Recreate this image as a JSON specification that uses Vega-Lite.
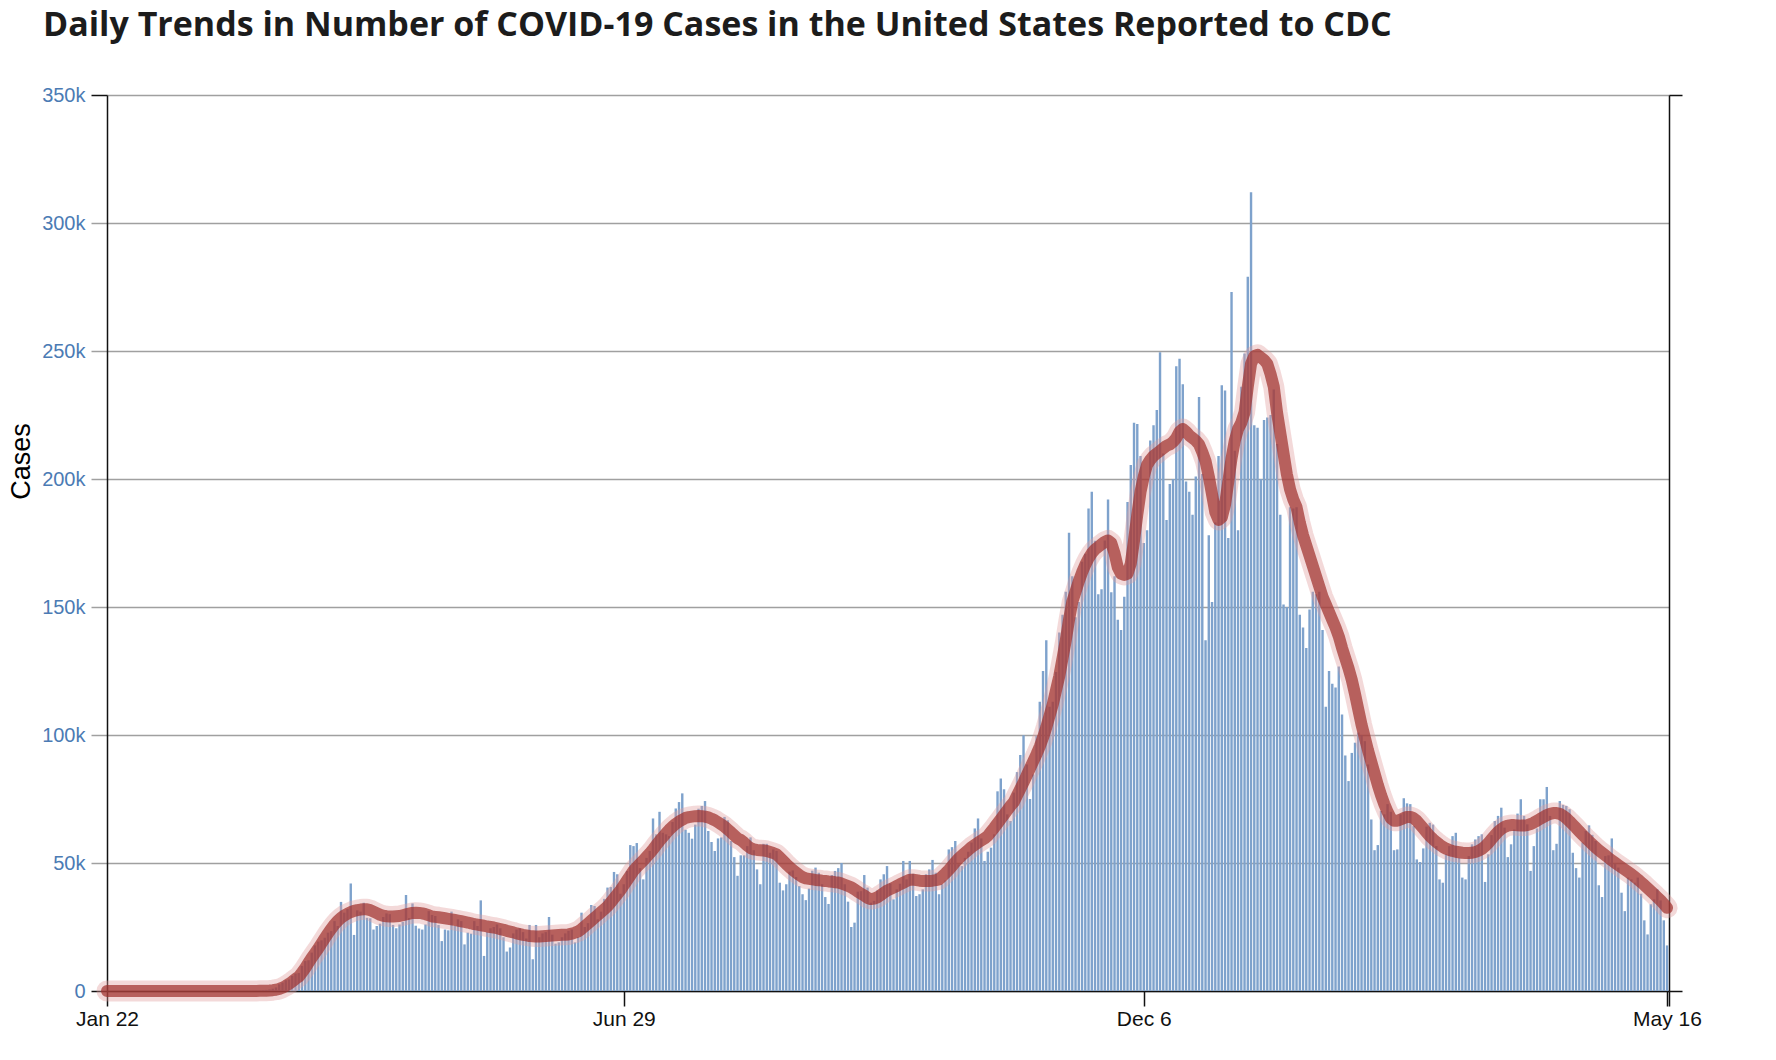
{
"$schema": "https://vega.github.io/schema/vega-lite/v6.json",
"width": 1562, "height": 896,
"autosize": {"type": "none"},
"padding": {"left": 107, "top": 95, "right": 107, "bottom": 69},
"background": "white",
"config": {"view": {"stroke": null}},
"title": {"text": "Daily Trends in Number of COVID-19 Cases in the United States Reported to CDC", "anchor": "start", "frame": "group", "font": "Open Sans", "fontWeight": "bold", "fontSize": 34, "color": "#1c1c1c", "dx": -64, "offset": 42},
"data": {"values": [
{"d":"2020-01-22","c":1,"a":0},{"d":"2020-01-23","c":0,"a":0},{"d":"2020-01-24","c":0,"a":0},{"d":"2020-01-25","c":1,"a":0},{"d":"2020-01-26","c":0,"a":0},{"d":"2020-01-27","c":0,"a":0},{"d":"2020-01-28","c":0,"a":0},{"d":"2020-01-29","c":0,"a":0},{"d":"2020-01-30","c":1,"a":0},{"d":"2020-01-31","c":0,"a":0},
{"d":"2020-02-01","c":1,"a":0},{"d":"2020-02-02","c":0,"a":0},{"d":"2020-02-03","c":0,"a":0},{"d":"2020-02-04","c":1,"a":0},{"d":"2020-02-05","c":0,"a":0},{"d":"2020-02-06","c":0,"a":0},{"d":"2020-02-07","c":1,"a":0},{"d":"2020-02-08","c":0,"a":0},{"d":"2020-02-09","c":0,"a":0},{"d":"2020-02-10","c":0,"a":0},{"d":"2020-02-11","c":1,"a":0},{"d":"2020-02-12","c":0,"a":0},{"d":"2020-02-13","c":0,"a":0},{"d":"2020-02-14","c":0,"a":0},{"d":"2020-02-15","c":1,"a":0},{"d":"2020-02-16","c":0,"a":0},{"d":"2020-02-17","c":0,"a":0},{"d":"2020-02-18","c":0,"a":0},{"d":"2020-02-19","c":0,"a":0},{"d":"2020-02-20","c":1,"a":0},{"d":"2020-02-21","c":0,"a":0},{"d":"2020-02-22","c":0,"a":0},{"d":"2020-02-23","c":5,"a":1},{"d":"2020-02-24","c":0,"a":1},{"d":"2020-02-25","c":0,"a":1},{"d":"2020-02-26","c":2,"a":1},{"d":"2020-02-27","c":0,"a":1},{"d":"2020-02-28","c":3,"a":1},{"d":"2020-02-29","c":5,"a":1},
{"d":"2020-03-01","c":8,"a":1},{"d":"2020-03-02","c":12,"a":2},{"d":"2020-03-03","c":20,"a":4},{"d":"2020-03-04","c":25,"a":6},{"d":"2020-03-05","c":40,"a":9},{"d":"2020-03-06","c":60,"a":14},{"d":"2020-03-07","c":90,"a":20},{"d":"2020-03-08","c":130,"a":30},{"d":"2020-03-09","c":200,"a":50},{"d":"2020-03-10","c":300,"a":80},{"d":"2020-03-11","c":420,"a":130},{"d":"2020-03-12","c":600,"a":200},{"d":"2020-03-13","c":900,"a":320},{"d":"2020-03-14","c":1400,"a":500},{"d":"2020-03-15","c":2600,"a":800},{"d":"2020-03-16","c":3300,"a":1300},{"d":"2020-03-17","c":4200,"a":2000},{"d":"2020-03-18","c":4500,"a":2800},{"d":"2020-03-19","c":5900,"a":3700},{"d":"2020-03-20","c":6800,"a":4700},{"d":"2020-03-21","c":7000,"a":5600},{"d":"2020-03-22","c":9800,"a":7200},{"d":"2020-03-23","c":11700,"a":9000},{"d":"2020-03-24","c":12000,"a":11000},{"d":"2020-03-25","c":15000,"a":13000},{"d":"2020-03-26","c":17800,"a":14800},{"d":"2020-03-27","c":19300,"a":16600},{"d":"2020-03-28","c":19800,"a":18600},{"d":"2020-03-29","c":20800,"a":20600},{"d":"2020-03-30","c":22800,"a":22500},{"d":"2020-03-31","c":23400,"a":24300},
{"d":"2020-04-01","c":27300,"a":26000},{"d":"2020-04-02","c":25400,"a":27400},{"d":"2020-04-03","c":34800,"a":28600},{"d":"2020-04-04","c":30600,"a":29500},{"d":"2020-04-05","c":32000,"a":30200},{"d":"2020-04-06","c":42000,"a":30800},{"d":"2020-04-07","c":21900,"a":31300},{"d":"2020-04-08","c":31500,"a":31600},{"d":"2020-04-09","c":31000,"a":31800},{"d":"2020-04-10","c":34500,"a":31900},{"d":"2020-04-11","c":28600,"a":31900},{"d":"2020-04-12","c":28400,"a":31600},{"d":"2020-04-13","c":24000,"a":31000},{"d":"2020-04-14","c":25400,"a":30400},{"d":"2020-04-15","c":26300,"a":29800},{"d":"2020-04-16","c":28900,"a":29400},{"d":"2020-04-17","c":30300,"a":29200},{"d":"2020-04-18","c":30000,"a":29100},{"d":"2020-04-19","c":25800,"a":29100},{"d":"2020-04-20","c":24500,"a":29200},{"d":"2020-04-21","c":26000,"a":29300},{"d":"2020-04-22","c":27000,"a":29600},{"d":"2020-04-23","c":37500,"a":29900},{"d":"2020-04-24","c":28500,"a":30200},{"d":"2020-04-25","c":34200,"a":30500},{"d":"2020-04-26","c":25500,"a":30600},{"d":"2020-04-27","c":24400,"a":30500},{"d":"2020-04-28","c":24000,"a":30300},{"d":"2020-04-29","c":26000,"a":30000},{"d":"2020-04-30","c":31200,"a":29600},
{"d":"2020-05-01","c":29700,"a":29100},{"d":"2020-05-02","c":29300,"a":28950},{"d":"2020-05-03","c":25800,"a":28800},{"d":"2020-05-04","c":19500,"a":28600},{"d":"2020-05-05","c":24000,"a":28400},{"d":"2020-05-06","c":23700,"a":28200},{"d":"2020-05-07","c":31000,"a":28000},{"d":"2020-05-08","c":25400,"a":27750},{"d":"2020-05-09","c":28000,"a":27500},{"d":"2020-05-10","c":27300,"a":27250},{"d":"2020-05-11","c":18200,"a":27000},{"d":"2020-05-12","c":22800,"a":26750},{"d":"2020-05-13","c":22400,"a":26450},{"d":"2020-05-14","c":27300,"a":26100},{"d":"2020-05-15","c":25400,"a":25900},{"d":"2020-05-16","c":35400,"a":25700},{"d":"2020-05-17","c":13700,"a":25500},{"d":"2020-05-18","c":23000,"a":25200},{"d":"2020-05-19","c":24500,"a":25000},{"d":"2020-05-20","c":25000,"a":24800},{"d":"2020-05-21","c":26000,"a":24500},{"d":"2020-05-22","c":24500,"a":24200},{"d":"2020-05-23","c":21000,"a":23900},{"d":"2020-05-24","c":15400,"a":23500},{"d":"2020-05-25","c":17000,"a":23200},{"d":"2020-05-26","c":22500,"a":22900},{"d":"2020-05-27","c":24000,"a":22500},{"d":"2020-05-28","c":24500,"a":22200},{"d":"2020-05-29","c":23000,"a":21900},{"d":"2020-05-30","c":20500,"a":21700},{"d":"2020-05-31","c":25800,"a":21500},
{"d":"2020-06-01","c":12400,"a":21400},{"d":"2020-06-02","c":25800,"a":21300},{"d":"2020-06-03","c":21000,"a":21300},{"d":"2020-06-04","c":22500,"a":21400},{"d":"2020-06-05","c":23000,"a":21500},{"d":"2020-06-06","c":28900,"a":21600},{"d":"2020-06-07","c":22000,"a":21700},{"d":"2020-06-08","c":18500,"a":21800},{"d":"2020-06-09","c":19000,"a":21900},{"d":"2020-06-10","c":21000,"a":22000},{"d":"2020-06-11","c":22500,"a":22000},{"d":"2020-06-12","c":23500,"a":22100},{"d":"2020-06-13","c":24000,"a":22400},{"d":"2020-06-14","c":19000,"a":22800},{"d":"2020-06-15","c":21000,"a":23300},{"d":"2020-06-16","c":30600,"a":24200},{"d":"2020-06-17","c":25000,"a":25300},{"d":"2020-06-18","c":26500,"a":26400},{"d":"2020-06-19","c":33600,"a":27500},{"d":"2020-06-20","c":33200,"a":28600},{"d":"2020-06-21","c":28000,"a":29700},{"d":"2020-06-22","c":31000,"a":30800},{"d":"2020-06-23","c":36000,"a":31900},{"d":"2020-06-24","c":40400,"a":33100},{"d":"2020-06-25","c":40600,"a":34600},{"d":"2020-06-26","c":46500,"a":36200},{"d":"2020-06-27","c":45600,"a":37800},{"d":"2020-06-28","c":38000,"a":39400},{"d":"2020-06-29","c":41700,"a":41300},{"d":"2020-06-30","c":46900,"a":43200},
{"d":"2020-07-01","c":57000,"a":45100},{"d":"2020-07-02","c":56600,"a":47000},{"d":"2020-07-03","c":57800,"a":48400},{"d":"2020-07-04","c":48000,"a":49700},{"d":"2020-07-05","c":43600,"a":51000},{"d":"2020-07-06","c":52000,"a":52400},{"d":"2020-07-07","c":54700,"a":53800},{"d":"2020-07-08","c":67400,"a":55300},{"d":"2020-07-09","c":61200,"a":57000},{"d":"2020-07-10","c":70000,"a":58600},{"d":"2020-07-11","c":61800,"a":60100},{"d":"2020-07-12","c":61200,"a":61600},{"d":"2020-07-13","c":60500,"a":63000},{"d":"2020-07-14","c":66000,"a":64200},{"d":"2020-07-15","c":71300,"a":65300},{"d":"2020-07-16","c":73800,"a":66200},{"d":"2020-07-17","c":77200,"a":66900},{"d":"2020-07-18","c":63000,"a":67600},{"d":"2020-07-19","c":61800,"a":67900},{"d":"2020-07-20","c":59500,"a":68100},{"d":"2020-07-21","c":65000,"a":68300},{"d":"2020-07-22","c":71200,"a":68400},{"d":"2020-07-23","c":72300,"a":68300},{"d":"2020-07-24","c":74200,"a":68100},{"d":"2020-07-25","c":62500,"a":67800},{"d":"2020-07-26","c":58200,"a":67300},{"d":"2020-07-27","c":54700,"a":66700},{"d":"2020-07-28","c":59600,"a":65900},{"d":"2020-07-29","c":60000,"a":65100},{"d":"2020-07-30","c":68000,"a":64200},{"d":"2020-07-31","c":66700,"a":63100},
{"d":"2020-08-01","c":58600,"a":62000},{"d":"2020-08-02","c":52300,"a":60800},{"d":"2020-08-03","c":45000,"a":59600},{"d":"2020-08-04","c":53000,"a":59000},{"d":"2020-08-05","c":53000,"a":58000},{"d":"2020-08-06","c":56600,"a":56800},{"d":"2020-08-07","c":60000,"a":55800},{"d":"2020-08-08","c":55000,"a":55300},{"d":"2020-08-09","c":47500,"a":55100},{"d":"2020-08-10","c":41700,"a":55000},{"d":"2020-08-11","c":57500,"a":54900},{"d":"2020-08-12","c":57500,"a":54700},{"d":"2020-08-13","c":54000,"a":54300},{"d":"2020-08-14","c":55300,"a":53900},{"d":"2020-08-15","c":54700,"a":53400},{"d":"2020-08-16","c":42300,"a":52200},{"d":"2020-08-17","c":39300,"a":50900},{"d":"2020-08-18","c":41700,"a":49600},{"d":"2020-08-19","c":46600,"a":48400},{"d":"2020-08-20","c":47100,"a":47300},{"d":"2020-08-21","c":44500,"a":46300},{"d":"2020-08-22","c":41000,"a":45300},{"d":"2020-08-23","c":37800,"a":44500},{"d":"2020-08-24","c":35500,"a":44000},{"d":"2020-08-25","c":40000,"a":43800},{"d":"2020-08-26","c":47000,"a":43600},{"d":"2020-08-27","c":48200,"a":43400},{"d":"2020-08-28","c":46200,"a":43300},{"d":"2020-08-29","c":41700,"a":43100},{"d":"2020-08-30","c":36700,"a":43000},{"d":"2020-08-31","c":34000,"a":42800},
{"d":"2020-09-01","c":45300,"a":42700},{"d":"2020-09-02","c":46900,"a":42500},{"d":"2020-09-03","c":48000,"a":42400},{"d":"2020-09-04","c":50000,"a":42000},{"d":"2020-09-05","c":41700,"a":41500},{"d":"2020-09-06","c":34900,"a":41000},{"d":"2020-09-07","c":25000,"a":40500},{"d":"2020-09-08","c":26700,"a":39700},{"d":"2020-09-09","c":38800,"a":38800},{"d":"2020-09-10","c":39000,"a":38000},{"d":"2020-09-11","c":45300,"a":37300},{"d":"2020-09-12","c":40400,"a":36400},{"d":"2020-09-13","c":34500,"a":35900},{"d":"2020-09-14","c":35200,"a":36100},{"d":"2020-09-15","c":39300,"a":36600},{"d":"2020-09-16","c":43600,"a":37400},{"d":"2020-09-17","c":45600,"a":38300},{"d":"2020-09-18","c":48800,"a":39200},{"d":"2020-09-19","c":42000,"a":39800},{"d":"2020-09-20","c":35800,"a":40400},{"d":"2020-09-21","c":39700,"a":41000},{"d":"2020-09-22","c":41900,"a":41700},{"d":"2020-09-23","c":50800,"a":42300},{"d":"2020-09-24","c":43600,"a":42900},{"d":"2020-09-25","c":50800,"a":43500},{"d":"2020-09-26","c":45800,"a":43500},{"d":"2020-09-27","c":37100,"a":43300},{"d":"2020-09-28","c":37800,"a":43100},{"d":"2020-09-29","c":39700,"a":43000},{"d":"2020-09-30","c":45600,"a":43000},
{"d":"2020-10-01","c":47500,"a":43000},{"d":"2020-10-02","c":51200,"a":43100},{"d":"2020-10-03","c":46200,"a":43300},{"d":"2020-10-04","c":37800,"a":43600},{"d":"2020-10-05","c":41700,"a":44800},{"d":"2020-10-06","c":43200,"a":46000},{"d":"2020-10-07","c":55300,"a":47300},{"d":"2020-10-08","c":56200,"a":48800},{"d":"2020-10-09","c":58600,"a":50300},{"d":"2020-10-10","c":49500,"a":51700},{"d":"2020-10-11","c":48800,"a":52900},{"d":"2020-10-12","c":52000,"a":54000},{"d":"2020-10-13","c":54400,"a":55100},{"d":"2020-10-14","c":58000,"a":56200},{"d":"2020-10-15","c":63500,"a":57100},{"d":"2020-10-16","c":67400,"a":58000},{"d":"2020-10-17","c":59600,"a":58800},{"d":"2020-10-18","c":50800,"a":59600},{"d":"2020-10-19","c":54400,"a":60600},{"d":"2020-10-20","c":56000,"a":62200},{"d":"2020-10-21","c":61200,"a":63800},{"d":"2020-10-22","c":78000,"a":65500},{"d":"2020-10-23","c":83000,"a":67200},{"d":"2020-10-24","c":78800,"a":68900},{"d":"2020-10-25","c":69000,"a":70600},{"d":"2020-10-26","c":66400,"a":72300},{"d":"2020-10-27","c":77500,"a":73800},{"d":"2020-10-28","c":85500,"a":76400},{"d":"2020-10-29","c":92200,"a":79000},{"d":"2020-10-30","c":99900,"a":81500},{"d":"2020-10-31","c":88500,"a":84300},
{"d":"2020-11-01","c":75000,"a":87000},{"d":"2020-11-02","c":84600,"a":89800},{"d":"2020-11-03","c":99600,"a":92500},{"d":"2020-11-04","c":113000,"a":95500},{"d":"2020-11-05","c":125000,"a":99000},{"d":"2020-11-06","c":137000,"a":103000},{"d":"2020-11-07","c":111000,"a":107500},{"d":"2020-11-08","c":113000,"a":112000},{"d":"2020-11-09","c":124600,"a":117500},{"d":"2020-11-10","c":140000,"a":123000},{"d":"2020-11-11","c":147000,"a":130000},{"d":"2020-11-12","c":156000,"a":137000},{"d":"2020-11-13","c":179000,"a":145000},{"d":"2020-11-14","c":162000,"a":152000},{"d":"2020-11-15","c":146000,"a":156000},{"d":"2020-11-16","c":152000,"a":160000},{"d":"2020-11-17","c":167700,"a":163500},{"d":"2020-11-18","c":170800,"a":166500},{"d":"2020-11-19","c":188500,"a":169000},{"d":"2020-11-20","c":195000,"a":171000},{"d":"2020-11-21","c":175900,"a":172500},{"d":"2020-11-22","c":155000,"a":173500},{"d":"2020-11-23","c":156900,"a":174500},{"d":"2020-11-24","c":176000,"a":175500},{"d":"2020-11-25","c":192000,"a":176000},{"d":"2020-11-26","c":155800,"a":175000},{"d":"2020-11-27","c":162000,"a":171000},{"d":"2020-11-28","c":145000,"a":165500},{"d":"2020-11-29","c":141000,"a":163000},{"d":"2020-11-30","c":154000,"a":162500},
{"d":"2020-12-01","c":191000,"a":163000},{"d":"2020-12-02","c":205500,"a":167000},{"d":"2020-12-03","c":222000,"a":176000},{"d":"2020-12-04","c":221500,"a":186000},{"d":"2020-12-05","c":209000,"a":195000},{"d":"2020-12-06","c":175000,"a":201000},{"d":"2020-12-07","c":180000,"a":205500},{"d":"2020-12-08","c":215000,"a":207500},{"d":"2020-12-09","c":221000,"a":209000},{"d":"2020-12-10","c":227000,"a":210000},{"d":"2020-12-11","c":249500,"a":211000},{"d":"2020-12-12","c":210000,"a":212000},{"d":"2020-12-13","c":184000,"a":213000},{"d":"2020-12-14","c":198000,"a":213500},{"d":"2020-12-15","c":200000,"a":214500},{"d":"2020-12-16","c":244000,"a":216000},{"d":"2020-12-17","c":247000,"a":218500},{"d":"2020-12-18","c":237000,"a":219500},{"d":"2020-12-19","c":199000,"a":218500},{"d":"2020-12-20","c":195000,"a":217000},{"d":"2020-12-21","c":186000,"a":216000},{"d":"2020-12-22","c":201000,"a":215000},{"d":"2020-12-23","c":232000,"a":213500},{"d":"2020-12-24","c":202000,"a":210500},{"d":"2020-12-25","c":137000,"a":207000},{"d":"2020-12-26","c":178000,"a":201000},{"d":"2020-12-27","c":152000,"a":194000},{"d":"2020-12-28","c":183000,"a":187000},{"d":"2020-12-29","c":209000,"a":184000},{"d":"2020-12-30","c":236600,"a":185000},{"d":"2020-12-31","c":234600,"a":190000},
{"d":"2021-01-01","c":177000,"a":199000},{"d":"2021-01-02","c":273000,"a":208000},{"d":"2021-01-03","c":211000,"a":215000},{"d":"2021-01-04","c":180000,"a":219500},{"d":"2021-01-05","c":236000,"a":222000},{"d":"2021-01-06","c":249000,"a":226000},{"d":"2021-01-07","c":279000,"a":236000},{"d":"2021-01-08","c":312000,"a":245000},{"d":"2021-01-09","c":221000,"a":248000},{"d":"2021-01-10","c":220000,"a":248500},{"d":"2021-01-11","c":200000,"a":247500},{"d":"2021-01-12","c":223000,"a":246500},{"d":"2021-01-13","c":224000,"a":245000},{"d":"2021-01-14","c":225000,"a":241000},{"d":"2021-01-15","c":235000,"a":236000},{"d":"2021-01-16","c":213700,"a":226000},{"d":"2021-01-17","c":186000,"a":218000},{"d":"2021-01-18","c":151000,"a":210000},{"d":"2021-01-19","c":150000,"a":202000},{"d":"2021-01-20","c":189000,"a":196000},{"d":"2021-01-21","c":188500,"a":192000},{"d":"2021-01-22","c":189000,"a":189000},{"d":"2021-01-23","c":147000,"a":183000},{"d":"2021-01-24","c":142000,"a":178000},{"d":"2021-01-25","c":134000,"a":174000},{"d":"2021-01-26","c":149000,"a":170000},{"d":"2021-01-27","c":156000,"a":166000},{"d":"2021-01-28","c":155000,"a":162000},{"d":"2021-01-29","c":156000,"a":158000},{"d":"2021-01-30","c":141000,"a":154000},{"d":"2021-01-31","c":111000,"a":151000},
{"d":"2021-02-01","c":125000,"a":148000},{"d":"2021-02-02","c":120000,"a":145000},{"d":"2021-02-03","c":118600,"a":142000},{"d":"2021-02-04","c":126800,"a":138500},{"d":"2021-02-05","c":108000,"a":134000},{"d":"2021-02-06","c":92000,"a":130000},{"d":"2021-02-07","c":82000,"a":126000},{"d":"2021-02-08","c":93000,"a":121500},{"d":"2021-02-09","c":97000,"a":116000},{"d":"2021-02-10","c":101000,"a":110000},{"d":"2021-02-11","c":100000,"a":104000},{"d":"2021-02-12","c":97600,"a":99000},{"d":"2021-02-13","c":88500,"a":94000},{"d":"2021-02-14","c":67000,"a":89500},{"d":"2021-02-15","c":55000,"a":85000},{"d":"2021-02-16","c":57000,"a":80500},{"d":"2021-02-17","c":70300,"a":76500},{"d":"2021-02-18","c":69000,"a":73000},{"d":"2021-02-19","c":73000,"a":70000},{"d":"2021-02-20","c":70000,"a":67500},{"d":"2021-02-21","c":55000,"a":66500},{"d":"2021-02-22","c":55300,"a":66500},{"d":"2021-02-23","c":69000,"a":67000},{"d":"2021-02-24","c":75300,"a":67500},{"d":"2021-02-25","c":73300,"a":68000},{"d":"2021-02-26","c":73000,"a":68000},{"d":"2021-02-27","c":64400,"a":67500},{"d":"2021-02-28","c":51400,"a":66500},
{"d":"2021-03-01","c":50400,"a":65000},{"d":"2021-03-02","c":55700,"a":63500},{"d":"2021-03-03","c":64200,"a":62000},{"d":"2021-03-04","c":65700,"a":60500},{"d":"2021-03-05","c":65000,"a":59300},{"d":"2021-03-06","c":56600,"a":58200},{"d":"2021-03-07","c":43600,"a":57200},{"d":"2021-03-08","c":42300,"a":56300},{"d":"2021-03-09","c":53400,"a":55600},{"d":"2021-03-10","c":56600,"a":55100},{"d":"2021-03-11","c":60500,"a":54700},{"d":"2021-03-12","c":61800,"a":54400},{"d":"2021-03-13","c":52000,"a":54200},{"d":"2021-03-14","c":44300,"a":54000},{"d":"2021-03-15","c":43600,"a":53900},{"d":"2021-03-16","c":52700,"a":53900},{"d":"2021-03-17","c":57300,"a":54000},{"d":"2021-03-18","c":59200,"a":54300},{"d":"2021-03-19","c":60500,"a":54800},{"d":"2021-03-20","c":61200,"a":55500},{"d":"2021-03-21","c":42600,"a":56500},{"d":"2021-03-22","c":53400,"a":57800},{"d":"2021-03-23","c":60900,"a":59300},{"d":"2021-03-24","c":66400,"a":60800},{"d":"2021-03-25","c":68400,"a":62200},{"d":"2021-03-26","c":71600,"a":63300},{"d":"2021-03-27","c":63800,"a":64100},{"d":"2021-03-28","c":52300,"a":64600},{"d":"2021-03-29","c":57300,"a":64800},{"d":"2021-03-30","c":63100,"a":64800},{"d":"2021-03-31","c":69300,"a":64700},
{"d":"2021-04-01","c":74900,"a":64600},{"d":"2021-04-02","c":68400,"a":64600},{"d":"2021-04-03","c":65100,"a":64800},{"d":"2021-04-04","c":46900,"a":65200},{"d":"2021-04-05","c":56600,"a":65800},{"d":"2021-04-06","c":63500,"a":66500},{"d":"2021-04-07","c":74900,"a":67300},{"d":"2021-04-08","c":74900,"a":68000},{"d":"2021-04-09","c":79700,"a":68700},{"d":"2021-04-10","c":68400,"a":69200},{"d":"2021-04-11","c":55000,"a":69500},{"d":"2021-04-12","c":57500,"a":69500},{"d":"2021-04-13","c":74200,"a":69200},{"d":"2021-04-14","c":72700,"a":68500},{"d":"2021-04-15","c":72300,"a":67500},{"d":"2021-04-16","c":71000,"a":66300},{"d":"2021-04-17","c":54000,"a":65000},{"d":"2021-04-18","c":48000,"a":63700},{"d":"2021-04-19","c":44300,"a":62300},{"d":"2021-04-20","c":58000,"a":61000},{"d":"2021-04-21","c":62500,"a":59700},{"d":"2021-04-22","c":64700,"a":58500},{"d":"2021-04-23","c":61000,"a":57300},{"d":"2021-04-24","c":58600,"a":56100},{"d":"2021-04-25","c":41300,"a":55000},{"d":"2021-04-26","c":36700,"a":54000},{"d":"2021-04-27","c":52700,"a":53000},{"d":"2021-04-28","c":53000,"a":52000},{"d":"2021-04-29","c":59600,"a":51000},{"d":"2021-04-30","c":49700,"a":50100},
{"d":"2021-05-01","c":48200,"a":49200},{"d":"2021-05-02","c":38400,"a":48300},{"d":"2021-05-03","c":31200,"a":47400},{"d":"2021-05-04","c":44300,"a":46500},{"d":"2021-05-05","c":43600,"a":45600},{"d":"2021-05-06","c":42300,"a":44600},{"d":"2021-05-07","c":44300,"a":43600},{"d":"2021-05-08","c":38000,"a":42500},{"d":"2021-05-09","c":27600,"a":41400},{"d":"2021-05-10","c":22100,"a":40200},{"d":"2021-05-11","c":33900,"a":39000},{"d":"2021-05-12","c":35800,"a":37800},{"d":"2021-05-13","c":39700,"a":36600},{"d":"2021-05-14","c":35400,"a":35400},{"d":"2021-05-15","c":27600,"a":34000},{"d":"2021-05-16","c":17800,"a":32500}
]},
"encoding": {
  "x": {"field": "d", "type": "temporal", "scale": {"type": "utc", "domain": [1579651200000, 1621175040000], "padding": 0},
        "axis": {"values": [1579651200000, 1593388800000, 1607212800000, 1621123200000, 1621175040000],
                 "labelExpr": "datum.value > 1621150000000 ? '' : utcFormat(datum.value, '%b %-d')",
                 "labelFont": "Liberation Sans", "labelFontSize": 21, "labelColor": "#111111", "labelPadding": 2,
                 "labelFlush": false, "labelOverlap": false,
                 "tickSize": 15, "tickColor": "#111111", "tickWidth": 1.5,
                 "domainColor": "#111111", "domainWidth": 1.5, "grid": false, "title": null}}
},
"layer": [
  {"mark": {"type": "bar", "width": 2.4, "color": "#7ea2cc"},
   "encoding": {"y": {"field": "c", "type": "quantitative", "scale": {"domain": [0, 350000]},
     "axis": {"orient": "left", "values": [0, 50000, 100000, 150000, 200000, 250000, 300000, 350000],
              "labelExpr": "datum.value == 0 ? '0' : format(datum.value / 1000, 'd') + 'k'",
              "labelColor": "#4b7bb4", "labelFont": "Liberation Sans", "labelFontSize": 20, "labelPadding": 6,
              "tickSize": 16, "tickWidth": 1.5,
              "tickColor": {"condition": {"test": "datum.value == 0 || datum.value == 350000", "value": "#111111"}, "value": "#a0a0a0"},
              "domainColor": "#111111", "domainWidth": 1.5,
              "grid": true, "gridColor": "#a0a0a0", "gridWidth": 1.5,
              "title": "Cases", "titleFont": "Liberation Sans", "titleFontSize": 27, "titleFontWeight": "normal", "titleColor": "#000000",
              "titleX": -72, "titleY": 366}}}},
  {"mark": {"type": "line", "strokeWidth": 21, "color": "#e09c9a", "opacity": 0.38, "strokeCap": "round", "strokeJoin": "round"},
   "encoding": {"y": {"field": "a", "type": "quantitative", "scale": {"domain": [0, 350000]},
     "axis": {"orient": "right", "values": [0, 350000], "labels": false, "tickSize": 13, "tickColor": "#111111", "tickWidth": 1.5,
              "domainColor": "#111111", "domainWidth": 1.5, "grid": false, "title": null}}}},
  {"mark": {"type": "line", "strokeWidth": 12, "color": "#a0302c", "opacity": 0.72, "strokeCap": "round", "strokeJoin": "round"},
   "encoding": {"y": {"field": "a", "type": "quantitative", "scale": {"domain": [0, 350000]}, "axis": null}}}
],
"resolve": {"scale": {"y": "independent"}}
}
